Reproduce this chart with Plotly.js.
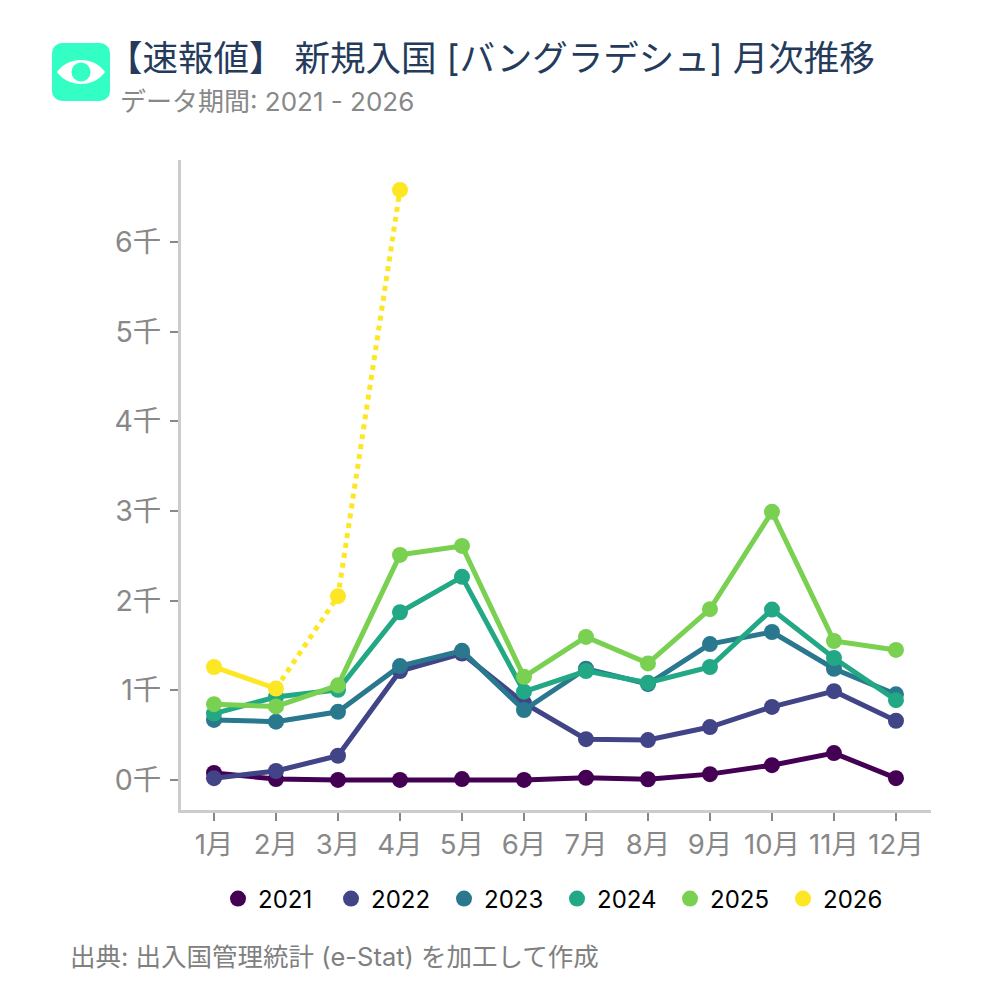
<!DOCTYPE html>
<html>
<head>
<meta charset="utf-8">
<script src="https://cdn.plot.ly/plotly-3.0.1.min.js"></script>
<style>html,body{margin:0;padding:0;background:#fff}#chart{width:1000px;height:1000px}</style>
</head>
<body>
<div id="chart"></div>
<script>
const months = ["1月","2月","3月","4月","5月","6月","7月","8月","9月","10月","11月","12月"];
const years = ["2021","2022","2023","2024","2025","2026"];
const colors = ["#440154","#414487","#2a788e","#22a884","#7ad151","#fde725"];
const y2021 = [78,10,0,0,10,0,25,8,65,165,300,20];
const y2022 = [20,100,270,1215,1410,860,455,445,590,815,990,660];
const y2023 = [670,650,760,1270,1440,780,1240,1070,1515,1650,1240,955];
const y2024 = [740,925,1005,1870,2265,985,1215,1085,1260,1900,1360,890];
const y2025 = [845,820,1055,2510,2610,1150,1595,1300,1905,2990,1550,1450];
const y2026 = [1260,1020,2050,6580];
const yTickVals = [0,1000,2000,3000,4000,5000,6000];
const yTickText = ["0千","1千","2千","3千","4千","5千","6千"];
const series = [y2021,y2022,y2023,y2024,y2025,y2026];
const FONT = 'Inter,"Noto Sans CJK JP","Noto Sans",sans-serif';

const traces = [];
series.forEach((vals,i)=>{
  const x = months.slice(0,vals.length);
  if (years[i]==="2026") {
    traces.push({x:x.slice(0,2),y:vals.slice(0,2),mode:"lines",line:{color:colors[i],width:5},showlegend:false,legendgroup:years[i],hoverinfo:"skip"});
    traces.push({x:x.slice(1),y:vals.slice(1),mode:"lines",line:{color:colors[i],width:5,dash:"5px,5px"},showlegend:false,legendgroup:years[i],hoverinfo:"skip"});
  } else {
    traces.push({x:x,y:vals,mode:"lines",line:{color:colors[i],width:5},showlegend:false,legendgroup:years[i],hoverinfo:"skip"});
  }
  traces.push({x:x,y:vals,mode:"markers",name:years[i],legendgroup:years[i],marker:{color:colors[i],size:16,line:{width:0}}});
});

const eye = "data:image/svg+xml;utf8,"+encodeURIComponent(
 '<svg xmlns="http://www.w3.org/2000/svg" width="58" height="58" viewBox="0 0 58 58">'+
 '<rect width="58" height="58" rx="10" ry="10" fill="#33ffc4"/>'+
 '<path d="M5 29 C16 13 42 13 53 29 C42 45 16 45 5 29 Z" fill="#fff"/>'+
 '<circle cx="29" cy="29" r="9.5" fill="#33ffc4"/></svg>');

const layout = {
  width:1000,height:1000,
  paper_bgcolor:"#fff",plot_bgcolor:"#fff",
  margin:{l:181,r:69,t:160,b:190},
  font:{family:FONT,color:"#888888"},
  title:{text:"【速報値】 新規入国 [バングラデシュ] 月次推移",font:{family:FONT,size:35.5,color:"#253b5b"},x:107/1000,xref:"container",xanchor:"left",y:1-59/1000,yref:"container",yanchor:"middle",pad:{l:0,r:0,t:0,b:0}},
  xaxis:{type:"category",categoryorder:"array",categoryarray:months,range:[-0.532,11.565],showgrid:false,zeroline:false,showline:true,linecolor:"#cccccc",linewidth:3,ticks:"outside",ticklen:8,tickwidth:2,tickcolor:"#888888",tickfont:{family:FONT,size:27.5,color:"#888888"},tickangle:0,automargin:false},
  yaxis:{range:[-335,6914],tickmode:"array",tickvals:yTickVals,ticktext:yTickText,showgrid:false,zeroline:false,showline:true,linecolor:"#cccccc",linewidth:3,ticks:"outside",ticklen:8,tickwidth:2,tickcolor:"#888888",tickfont:{family:FONT,size:28.5,color:"#888888"},ticklabelstandoff:3,automargin:false},
  legend:{orientation:"h",x:0.557,xanchor:"center",xref:"container",y:101/1000,yref:"container",yanchor:"middle",font:{family:FONT,size:24,color:"#000"},itemwidth:30,entrywidth:68,entrywidthmode:"pixels",traceorder:"normal",bgcolor:"rgba(0,0,0,0)"},
  images:[{source:eye,xref:"paper",yref:"paper",x:(52-181)/750,y:(810-43)/650,sizex:58/750,sizey:58/650,xanchor:"left",yanchor:"top",sizing:"stretch",layer:"above"}],
  annotations:[
    {text:"データ期間: 2021 - 2026",xref:"paper",yref:"paper",x:(118-181)/750,y:(810-101)/650,xanchor:"left",yanchor:"middle",showarrow:false,font:{family:FONT,size:26,color:"#888888"}},
    {text:"出典: 出入国管理統計 (e-Stat) を加工して作成",xref:"paper",yref:"paper",x:(68-181)/750,y:(810-956)/650,xanchor:"left",yanchor:"middle",showarrow:false,font:{family:FONT,size:25.5,color:"#808080"}}
  ]
};
Plotly.newPlot("chart",traces,layout,{displayModeBar:false,responsive:false});
</script>
</body>
</html>
